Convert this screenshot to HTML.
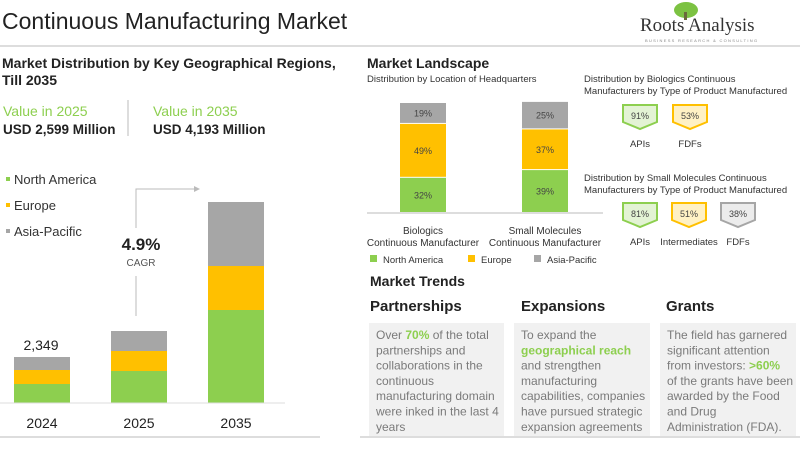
<!DOCTYPE html>
<html><head><meta charset="utf-8"><style>
body{margin:0;width:800px;height:450px;background:#fff;overflow:hidden;font-family:"Liberation Sans",sans-serif}
svg{display:block}
</style></head><body>
<svg id="s" width="800" height="450" viewBox="0 0 800 450" font-family="Liberation Sans, sans-serif">
<text x="2" y="29" font-size="23" fill="#222">Continuous Manufacturing Market</text>
<g>
<ellipse cx="686" cy="10" rx="12" ry="8" fill="#7cc242"/>
<rect x="684" y="12" width="3" height="8" fill="#6a6a3a"/>
<text x="640" y="31" font-size="19" font-family="Liberation Serif, serif" fill="#333">Roots Analysis</text>
<text x="645" y="42" font-size="4" fill="#888" letter-spacing="1.3">BUSINESS RESEARCH &amp; CONSULTING</text>
</g>
<line x1="0" y1="46" x2="800" y2="46" stroke="#ddd" stroke-width="2"/>
<text x="2" y="68" font-size="14" font-weight="bold" fill="#222">Market Distribution by Key Geographical Regions,</text>
<text x="2" y="85" font-size="14" font-weight="bold" fill="#222">Till 2035</text>
<text x="3" y="116" font-size="14" fill="#8dcf4f">Value in 2025</text>
<text x="3" y="134" font-size="13.5" font-weight="bold" fill="#222">USD 2,599 Million</text>
<line x1="128" y1="100" x2="128" y2="136" stroke="#bbb"/>
<text x="153" y="116" font-size="14" fill="#8dcf4f">Value in 2035</text>
<text x="153" y="134" font-size="13.5" font-weight="bold" fill="#222">USD 4,193 Million</text>
<g id="leftLegend" font-size="13" fill="#333"></g>
<g id="leftChart"></g>
<g>
<polyline points="136,316 136,276" fill="none" stroke="#bbb"/>
<polyline points="136,228 136,189 198,189" fill="none" stroke="#bbb"/>
<polygon points="200,189 194,186 194,192" fill="#bbb"/>
<text x="141" y="250" font-size="17" font-weight="bold" text-anchor="middle" fill="#222">4.9%</text>
<text x="141" y="266" font-size="10" text-anchor="middle" fill="#555">CAGR</text>
</g>
<line x1="0" y1="437" x2="320" y2="437" stroke="#ddd" stroke-width="2"/>
<text x="367" y="68" font-size="14" font-weight="bold" fill="#222">Market Landscape</text>
<text x="367" y="82" font-size="9.5" fill="#333">Distribution by Location of Headquarters</text>
<g id="rightChart"></g>
<g id="rightLegend" font-size="9.5" fill="#333"></g>
<text x="584" y="82" font-size="9.5" fill="#333">Distribution by Biologics Continuous</text>
<text x="584" y="94" font-size="9.5" fill="#333">Manufacturers by Type of Product Manufactured</text>
<text x="584" y="181" font-size="9.5" fill="#333">Distribution by Small Molecules Continuous</text>
<text x="584" y="193" font-size="9.5" fill="#333">Manufacturers by Type of Product Manufactured</text>
<g id="badges"></g>
<text x="370" y="286" font-size="14" font-weight="bold" fill="#222">Market Trends</text>
<text x="370" y="311" font-size="15" font-weight="bold" fill="#222">Partnerships</text>
<text x="521" y="311" font-size="15" font-weight="bold" fill="#222">Expansions</text>
<text x="666" y="311" font-size="15" font-weight="bold" fill="#222">Grants</text>
<rect x="369" y="323" width="135" height="113" fill="#f1f1f1"/>
<rect x="514" y="323" width="136" height="113" fill="#f1f1f1"/>
<rect x="660" y="323" width="136" height="113" fill="#f1f1f1"/>
<g font-size="12" fill="#7a7a7a">
<text x="376" y="339"><tspan x="376">Over <tspan fill="#8dcf4f" font-weight="bold">70%</tspan> of the total</tspan><tspan x="376" dy="15.3">partnerships and</tspan><tspan x="376" dy="15.3">collaborations in the</tspan><tspan x="376" dy="15.3">continuous</tspan><tspan x="376" dy="15.3">manufacturing domain</tspan><tspan x="376" dy="15.3">were inked in the last 4</tspan><tspan x="376" dy="15.3">years</tspan></text>
<text x="521" y="339"><tspan x="521">To expand the</tspan><tspan x="521" dy="15.3" fill="#8dcf4f" font-weight="bold">geographical reach</tspan><tspan x="521" dy="15.3">and strengthen</tspan><tspan x="521" dy="15.3">manufacturing</tspan><tspan x="521" dy="15.3">capabilities, companies</tspan><tspan x="521" dy="15.3">have pursued strategic</tspan><tspan x="521" dy="15.3">expansion agreements</tspan></text>
<text x="667" y="339"><tspan x="667">The field has garnered</tspan><tspan x="667" dy="15.3">significant attention</tspan><tspan x="667" dy="15.3">from investors: <tspan fill="#8dcf4f" font-weight="bold">&gt;60%</tspan></tspan><tspan x="667" dy="15.3">of the grants have been</tspan><tspan x="667" dy="15.3">awarded by the Food</tspan><tspan x="667" dy="15.3">and Drug</tspan><tspan x="667" dy="15.3">Administration (FDA).</tspan></text>
</g>
<line x1="360" y1="437" x2="800" y2="437" stroke="#ddd" stroke-width="2"/>
</svg>
<script>
// Left chart data (relative market size units)
const years = ["2024", "2025", "2035"];
const northAmerica = [19, 32, 93];
const europe = [14, 20, 44];
const asiaPacific = [13, 20, 64];
const totalLabels = ["2,349", "", ""];
const regionNames = ["North America", "Europe", "Asia-Pacific"];
// HQ chart data (%)
const hqCategories = ["Biologics|Continuous Manufacturer", "Small Molecules|Continuous Manufacturer"];
const hqNorthAmerica = [32, 39];
const hqEurope = [49, 37];
const hqAsiaPacific = [19, 25];
// Badge data
const bioProducts = ["APIs", "FDFs"];
const bioValues = [91, 53];
const smProducts = ["APIs", "Intermediates", "FDFs"];
const smValues = [81, 51, 38];

const NS = "http://www.w3.org/2000/svg";
const colors = ["#8dcf4f", "#ffc000", "#a6a6a6"];
function mk(tag, attrs, parent, txt) {
  const e = document.createElementNS(NS, tag);
  for (const k in attrs) e.setAttribute(k, attrs[k]);
  if (txt !== undefined) e.textContent = txt;
  parent.appendChild(e);
  return e;
}
// Left chart
const L = document.getElementById('leftChart');
const baseY = 403, pxPerUnit = 1.0;
const xBand = i => 14 + i * 97;
const yLen = v => v * pxPerUnit;
const seriesL = [northAmerica, europe, asiaPacific];
years.forEach((yr, i) => {
  let y = baseY;
  seriesL.forEach((s, k) => {
    const h = yLen(s[i]);
    const r = mk('rect', { x: xBand(i), y: y - h, width: 56, height: h, fill: colors[k] }, L);
    
    
    y -= h;
  });
  const t = mk('text', { x: xBand(i) + 28, y: 428, 'font-size': 14, 'text-anchor': 'middle', fill: '#222' }, L, yr);
  
  
  if (totalLabels[i]) {
    const tl = mk('text', { x: xBand(i) + 27, y: y - 7, 'font-size': 14, 'text-anchor': 'middle', fill: '#222' }, L, totalLabels[i]);
    
    
  }
});
const ax = mk('line', { x1: 0, y1: baseY, x2: 285, y2: baseY, stroke: '#ddd' }, L);


const LL = document.getElementById('leftLegend');
regionNames.forEach((n, k) => {
  mk('rect', { x: 6, y: 177 + k * 26, width: 4, height: 4, fill: colors[k] }, LL);
  const t = mk('text', { x: 14, y: 184 + k * 26 }, LL, n);
  
  
});
// HQ chart
const R = document.getElementById('rightChart');
const rBase = 213, rScale = 1.1;
const rx = i => 400 + i * 122;
const seriesR = [hqNorthAmerica, hqEurope, hqAsiaPacific];
hqCategories.forEach((c, i) => {
  let y = rBase;
  seriesR.forEach((s, k) => {
    const h = s[i] * rScale;
    const r = mk('rect', { x: rx(i), y: y - h, width: 46, height: h - 1, fill: colors[k] }, R);
    
    
    const t = mk('text', { x: rx(i) + 23, y: y - h / 2 + 3, 'font-size': 9, 'text-anchor': 'middle', fill: '#444' }, R, s[i] + '%');
    
    
    y -= h;
  });
  c.split('|').forEach((ln, j) => {
    const t = mk('text', { x: rx(i) + 23, y: 234 + j * 12, 'font-size': 10, 'text-anchor': 'middle', fill: '#333' }, R, ln);
    
    
  });
});
const rax = mk('line', { x1: 367, y1: rBase, x2: 603, y2: rBase, stroke: '#bbb' }, R);


const RL = document.getElementById('rightLegend');
const rlx = [370, 468, 534];
regionNames.forEach((n, k) => {
  mk('rect', { x: rlx[k], y: 255, width: 7, height: 7, fill: colors[k] }, RL);
  const t = mk('text', { x: rlx[k] + 13, y: 263 }, RL, n);
  
  
});
// Badges
const B = document.getElementById('badges');
const bcol = [["#e3f3d4", "#8dcf4f"], ["#fff1c4", "#ffc000"], ["#ececec", "#a6a6a6"]];
function badge(x, y, v, k, label) {
  const p = mk('path', { d: `M${x} ${y}h34v17l-17 7l-17 -7z`, fill: bcol[k][0], stroke: bcol[k][1], 'stroke-width': 2 }, B);
  
  
  const t = mk('text', { x: x + 17, y: y + 14, 'font-size': 9, 'text-anchor': 'middle', fill: '#444' }, B, v + '%');
  
  
  const l = mk('text', { x: x + 17, y: y + 42, 'font-size': 9.5, 'text-anchor': 'middle', fill: '#333' }, B, label);
  
  
}
bioValues.forEach((v, i) => badge(623 + i * 50, 105, v, i, bioProducts[i]));
smValues.forEach((v, i) => badge(623 + i * 49, 203, v, i, smProducts[i]));
</script>
</body></html>
